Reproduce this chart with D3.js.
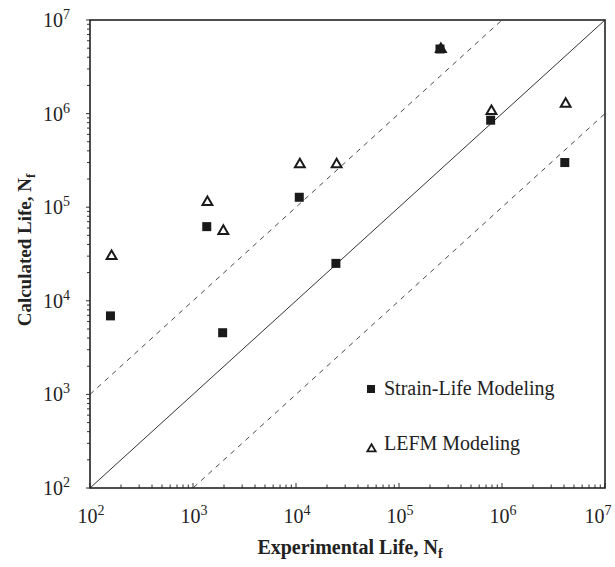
<!DOCTYPE html>
<html>
<head>
<meta charset="utf-8">
<script src="https://cdn.jsdelivr.net/npm/d3@7"></script>
<style>
  body { margin: 0; background: #fff; }
  text { font-family: "Liberation Serif", "Times New Roman", serif; fill: #222; }
</style>
</head>
<body>
<div id="main"></div>
<script>
// experimental life (x) and calculated life (y)
const strainExp  = [158, 1360, 1940, 10760, 24400, 250000, 776000, 4070000];
const strainCalc = [6900, 62000, 4560, 127700, 25100, 4900000, 850000, 300000];
const lefmExp    = [162, 1380, 1970, 10900, 24800, 255000, 790000, 4150000];
const lefmCalc   = [30800, 116000, 57000, 294000, 294000, 5000000, 1090000, 1300000];
const tickExps   = [2, 3, 4, 5, 6, 7];
// reference lines: calculated = factor * experimental
const bandFactors = [1, 10, 0.1];

const width = 615, height = 567;
const margin = {left: 90, right: 10, top: 20, bottom: 79};

const svg = d3.select("#main").append("svg")
    .attr("width", width)
    .attr("height", height);

const x = d3.scaleLog().domain([1e2, 1e7]).range([margin.left, width - margin.right]);
const y = d3.scaleLog().domain([1e2, 1e7]).range([height - margin.bottom, margin.top]);

svg.append("clipPath").attr("id", "clip")
    .append("rect")
    .attr("x", x(1e2)).attr("y", y(1e7))
    .attr("width", x(1e7) - x(1e2)).attr("height", y(1e2) - y(1e7));

// minor + major ticks
const allTicks = [];
for (let e = 2; e < 7; e++) {
    for (let m = 1; m < 10; m++) allTicks.push(m * Math.pow(10, e));
}
allTicks.push(1e7);
const isMajor = d => Math.abs(Math.log10(d) % 1) < 1e-9;

svg.append("g")
    .attr("transform", `translate(0,${y(1e2)})`)
    .selectAll("line").data(allTicks).join("line")
    .attr("x1", d => x(d)).attr("x2", d => x(d))
    .attr("y1", 0)
    .attr("y2", d => isMajor(d) ? -5 : -3.5)
    .attr("stroke", "#333").attr("stroke-width", 1);

svg.append("g")
    .attr("transform", `translate(${x(1e2)},0)`)
    .selectAll("line").data(allTicks).join("line")
    .attr("y1", d => y(d)).attr("y2", d => y(d))
    .attr("x1", 0)
    .attr("x2", d => isMajor(d) ? -4 : -3)
    .attr("stroke", "#333").attr("stroke-width", 1);

// reference lines
const lines = svg.append("g").attr("clip-path", "url(#clip)");
bandFactors.forEach(f => {
    const xs = [1e2, 1e7];
    lines.append("line")
        .attr("x1", x(xs[0])).attr("y1", y(xs[0] * f))
        .attr("x2", x(xs[1])).attr("y2", y(xs[1] * f))
        .attr("stroke", "#333")
        .attr("stroke-width", f === 1 ? 1 : 0.9)
        .attr("stroke-dasharray", f === 1 ? null : "5,5");
});

// frame
svg.append("rect")
    .attr("x", x(1e2)).attr("y", y(1e7))
    .attr("width", x(1e7) - x(1e2)).attr("height", y(1e2) - y(1e7))
    .attr("fill", "none").attr("stroke", "#222").attr("stroke-width", 1.6);

// tick labels (last one pulled in so it stays on the page)
const xl = svg.append("g").selectAll("text").data(tickExps).join("text")
    .attr("x", d => Math.min(x(Math.pow(10, d)) + 1, width - 17))
    .attr("y", 523)
    .attr("text-anchor", "middle")
    .style("font-size", "20px");
xl.append("tspan").text("10");
xl.append("tspan").attr("dy", -8).style("font-size", "14px").text(d => d);

const yl = svg.append("g").selectAll("text").data(tickExps).join("text")
    .attr("x", 70)
    .attr("y", d => y(Math.pow(10, d)) + 7)
    .attr("text-anchor", "end")
    .style("font-size", "20px");
yl.append("tspan").text("10");
yl.append("tspan").attr("dy", -8).style("font-size", "14px").text(d => d);

// axis titles
const xt = svg.append("text")
    .attr("x", 350).attr("y", 554)
    .attr("text-anchor", "middle")
    .style("font-size", "20px").style("font-weight", "bold");
xt.append("tspan").text("Experimental Life, N");
xt.append("tspan").attr("dy", 4).style("font-size", "14px").text("f");

const yt = svg.append("text")
    .attr("transform", `translate(31,250) rotate(-90)`)
    .attr("text-anchor", "middle")
    .style("font-size", "19px").style("font-weight", "bold");
yt.append("tspan").text("Calculated Life, N");
yt.append("tspan").attr("dy", 4).style("font-size", "13px").text("f");

// markers (triangles first so overlapping squares stay on top)
const triangle = d3.symbol().type(d3.symbolTriangle).size(42);

svg.append("g").selectAll("path")
    .data(d3.zip(lefmExp, lefmCalc)).join("path")
    .attr("transform", d => `translate(${x(d[0])},${y(d[1]) + 1})`)
    .attr("d", triangle)
    .attr("fill", "#fff").attr("stroke", "#1a1a1a").attr("stroke-width", 2);

svg.append("g").selectAll("rect")
    .data(d3.zip(strainExp, strainCalc)).join("rect")
    .attr("x", d => x(d[0]) - 4.5).attr("y", d => y(d[1]) - 4.5)
    .attr("width", 9).attr("height", 9)
    .attr("fill", "#1a1a1a");

// legend
const legend = svg.append("g");
legend.append("rect")
    .attr("x", 367).attr("y", 385).attr("width", 8).attr("height", 8)
    .attr("fill", "#1a1a1a");
legend.append("text").attr("x", 384).attr("y", 395)
    .style("font-size", "20px").text("Strain-Life Modeling");
legend.append("path")
    .attr("transform", "translate(371.5,449)")
    .attr("d", d3.symbol().type(d3.symbolTriangle).size(30))
    .attr("fill", "#fff").attr("stroke", "#1a1a1a").attr("stroke-width", 1.8);
legend.append("text").attr("x", 384).attr("y", 450)
    .style("font-size", "20px").text("LEFM Modeling");
</script>
</body>
</html>
